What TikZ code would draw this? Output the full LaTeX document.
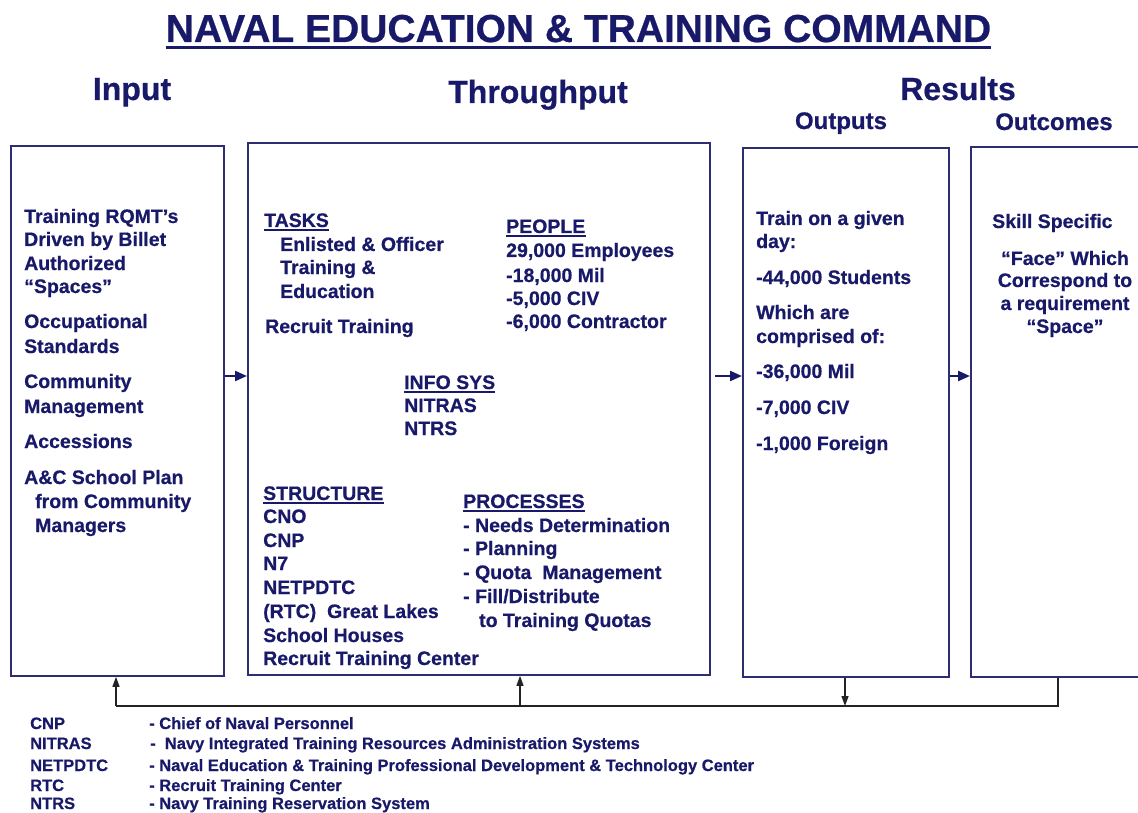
\documentclass[tikz,border=0pt]{standalone}
\usepackage{fontspec}
\setmainfont{Liberation Sans}[BoldFeatures={FakeBold=0.6}]
\usetikzlibrary{arrows.meta}
\definecolor{navytxt}{RGB}{25,25,105}
\definecolor{navybox}{RGB}{45,45,115}
\definecolor{fbgray}{RGB}{35,35,35}
\begin{document}
\begin{tikzpicture}[x=1pt,y=-1pt,
  txt/.style={inner sep=0pt, anchor=base west, text=navytxt, font=\bfseries\fontsize{19.5}{23}\selectfont},
  ctxt/.style={txt, anchor=base},
  head/.style={inner sep=0pt, anchor=base, text=navytxt, font=\bfseries\fontsize{32}{38}\selectfont},
  subhead/.style={head, font=\bfseries\fontsize{24}{28}\selectfont},
  leg/.style={txt, font=\bfseries\fontsize{16.5}{19}\selectfont},
  box/.style={draw=navybox, line width=1.8pt, anchor=north west, inner sep=0pt},
  uline/.style={draw=navytxt, line width=1.5pt},
  flow/.style={draw=navytxt, line width=2.2pt, -{Triangle[length=12pt,width=10pt]}},
  fb/.style={draw=fbgray, line width=1.3pt},
  fbarrow/.style={fb, -{Triangle[length=10pt,width=7pt]}}
]
\useasboundingbox (0,0) rectangle (1138,813);

% title and headers
\node[inner sep=0pt, anchor=base, text=navytxt, font=\bfseries\fontsize{39}{46}\selectfont] (title) at (578.5,42) {NAVAL EDUCATION \& TRAINING COMMAND};
\draw[navytxt, line width=3pt] ([yshift=-6pt]title.base west) -- ([yshift=-6pt]title.base east);
\node[head] (hin) at (132,100) {Input};
\node[head] (hth) at (538,103) {Throughput};
\node[head] (hres) at (958,100) {Results};
\node[subhead] (hout) at (841,129) {Outputs};
\node[subhead] (hoc) at (1054,130) {Outcomes};

% boxes
\node[box, minimum width=213pt, minimum height=530pt] (inbox) at (10,145) {};
\node[box, minimum width=462pt, minimum height=532pt] (thbox) at (247,142) {};
\node[box, minimum width=206pt, minimum height=529pt] (outbox) at (742,147) {};
\node[box, minimum width=190pt, minimum height=530pt] (ocbox) at (970,146) {};

% input text
\foreach \t/\x/\y [count=\i] in {{Training RQMT’s}/24/223, {Driven by Billet}/24/246, {Authorized}/24/270, {“Spaces”}/24/293,
  {Occupational}/24/328, {Standards}/24/353, {Community}/24/388, {Management}/24/413, {Accessions}/24/448,
  {A\&C School Plan}/24/484, {from Community}/35/508, {Managers}/35/532}
  \node[txt] (in\i) at (\x,\y) {\t};

% throughput text
\node[txt] (tasks) at (264,227) {TASKS};
\draw[uline] ([yshift=-3pt]tasks.base west) -- ([yshift=-3pt]tasks.base east);
\foreach \t/\x/\y [count=\i] in {{Enlisted \& Officer}/280/251, {Training \&}/280/274, {Education}/280/298, {Recruit Training}/265/333}
  \node[txt] (task\i) at (\x,\y) {\t};

\node[txt] (people) at (506,233) {PEOPLE};
\draw[uline] ([yshift=-3pt]people.base west) -- ([yshift=-3pt]people.base east);
\foreach \t/\y [count=\i] in {{29,000 Employees}/257, {-18,000 Mil}/282, {-5,000 CIV}/305, {-6,000 Contractor}/328}
  \node[txt] (peo\i) at (506,\y) {\t};

\node[txt] (infosys) at (404,389) {INFO SYS};
\draw[uline] ([yshift=-3pt]infosys.base west) -- ([yshift=-3pt]infosys.base east);
\node[txt] (nitras) at (404,412) {NITRAS};
\node[txt] (ntrs) at (404,435) {NTRS};

\node[txt] (structure) at (263,500) {STRUCTURE};
\draw[uline] ([yshift=-3pt]structure.base west) -- ([yshift=-3pt]structure.base east);
\foreach \t/\y [count=\i] in {{CNO}/523, {CNP}/547, {N7}/570, {NETPDTC}/594, {(RTC)~ Great Lakes}/618, {School Houses}/642, {Recruit Training Center}/665}
  \node[txt] (str\i) at (263,\y) {\t};

\node[txt] (processes) at (463,508) {PROCESSES};
\draw[uline] ([yshift=-3pt]processes.base west) -- ([yshift=-3pt]processes.base east);
\foreach \t/\x/\y [count=\i] in {{- Needs Determination}/463/532, {- Planning}/463/555, {- Quota~ Management}/463/579, {- Fill/Distribute}/463/603, {to Training Quotas}/479/627}
  \node[txt] (proc\i) at (\x,\y) {\t};

% outputs text
\foreach \t/\y [count=\i] in {{Train on a given}/225, {day:}/248, {-44,000 Students}/284, {Which are}/319, {comprised of:}/343, {-36,000 Mil}/378, {-7,000 CIV}/414, {-1,000 Foreign}/450}
  \node[txt] (out\i) at (756,\y) {\t};

% outcomes text
\node[txt] (oc1) at (992,228) {Skill Specific};
\foreach \t/\y [count=\i from 2] in {{“Face” Which}/265, {Correspond to}/287, {a requirement}/310, {“Space”}/333}
  \node[ctxt] (oc\i) at (1065,\y) {\t};

% flow arrows
\coordinate (fy) at (0,376);
\draw[flow] (inbox.east |- fy) -- (thbox.west |- fy);
\draw[flow, shorten <=4pt] (thbox.east |- fy) -- (outbox.west |- fy);
\draw[flow] (outbox.east |- fy) -- (ocbox.west |- fy);

% feedback loop
\coordinate (fbL) at (116,706);
\coordinate (fbM) at (520,706);
\coordinate (fbO) at (845,706);
\coordinate (fbR) at (1058,706);
\draw[fb] (ocbox.south -| fbR) -- (fbR) -- (fbL);
\draw[fbarrow] (fbL) -- (inbox.south -| fbL);
\draw[fbarrow] (fbM) -- (thbox.south -| fbM);
\draw[fbarrow] (outbox.south -| fbO) -- (fbO);

% legend
\foreach \a/\b/\bx/\y [count=\i] in {{CNP}/{- Chief of Naval Personnel}/149/729,
  {NITRAS}/{-~ Navy Integrated Training Resources Administration Systems}/150/749,
  {NETPDTC}/{- Naval Education \& Training Professional Development \& Technology Center}/149/771,
  {RTC}/{- Recruit Training Center}/149/791,
  {NTRS}/{- Navy Training Reservation System}/149/809}
{
  \node[leg] (lab\i) at (30,\y) {\a};
  \node[leg] (def\i) at (\bx,\y) {\b};
}
\end{tikzpicture}
\end{document}
